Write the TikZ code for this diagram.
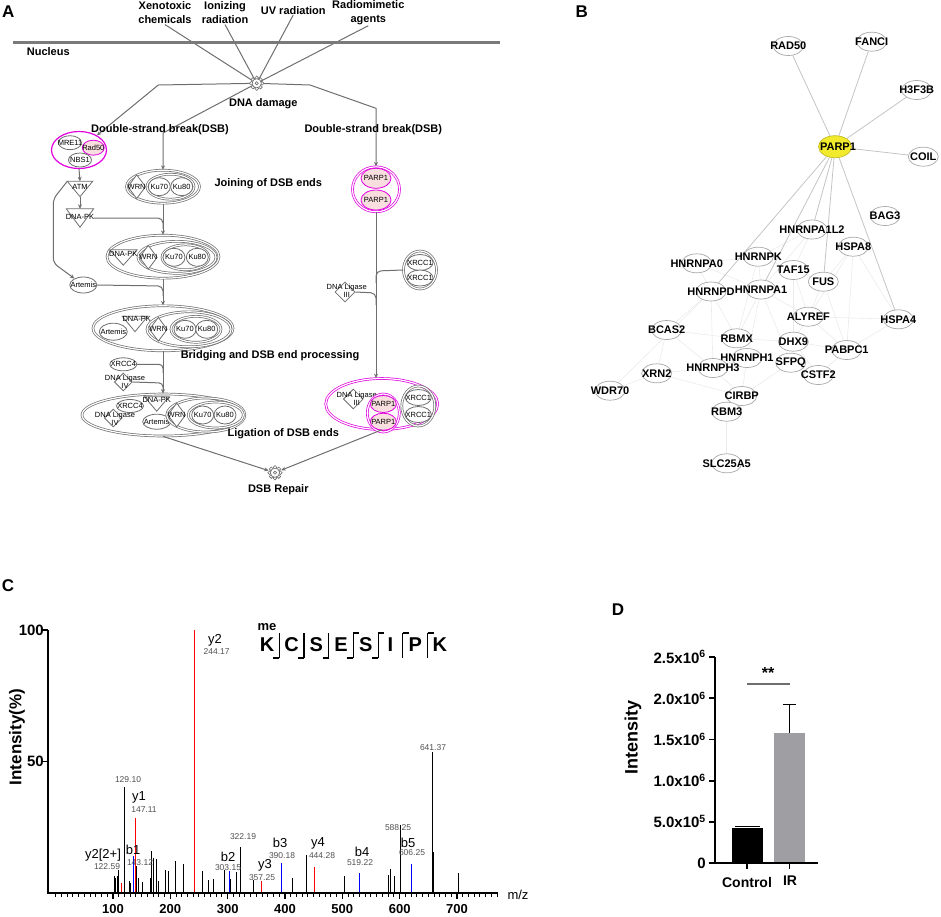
\documentclass[tikz,border=0pt]{standalone}
\usepackage{fontspec}
\setmainfont{Liberation Sans}
\usepackage{tikz}
\usetikzlibrary{shapes.geometric,arrows.meta}

\definecolor{lg}{HTML}{6E6E6E}
\definecolor{memb}{HTML}{7A7A7A}
\definecolor{mag}{HTML}{E000E0}
\definecolor{pinkf}{HTML}{F8DEDE}
\definecolor{edgeg}{HTML}{C4C4C4}
\definecolor{faint}{HTML}{EBEBEB}
\definecolor{bline}{HTML}{A8A8A8}
\definecolor{parpy}{HTML}{F2EA2C}
\definecolor{irgray}{HTML}{9E9EA3}
\definecolor{valg}{HTML}{505050}

\newcommand{\fsz}[1]{\fontsize{#1}{#1}\selectfont}
\newcommand{\zw}[1]{\makebox[0pt]{#1}}
% triangle drawn inside a named box node
\newcommand{\tridraw}[1]{\draw[ln, line width=0.8pt, fill=white] (#1.north west) -- (#1.north east) -- (#1.south) -- cycle;}
% small cog for process nodes
\newcommand{\gear}[2]{%
  \node[circle, minimum size=13, inner sep=0] (#1) at (#2) {};
  \foreach \a in {0,45,...,315} \draw[gearc] (#1.center) ++(\a:5.3) circle (1.9);
  \draw[gearc] (#1.center) circle (4.6);
  \draw[gearc] (#1.center) circle (1.6);
}

\pgfdeclarelayer{bg}
\pgfsetlayers{bg,main}

\begin{document}
\begin{tikzpicture}[x=1pt, y=-1pt,
    ln/.style={draw=lg, line width=1pt},
    arr/.style={ln, -{Stealth[length=4.5pt,width=4pt]}},
    lbl/.style={font=\fsz{11}\bfseries, inner sep=0},
    stim/.style={font=\fontsize{11}{13.3}\selectfont\bfseries, align=center, inner sep=1pt},
    small/.style={font=\fontsize{7.5}{8.3}\selectfont, align=center, inner sep=0},
    prot/.style={ellipse, draw=lg, line width=0.8pt, fill=white, inner sep=0, font=\fsz{7.5}},
    pprot/.style={prot, draw=mag, fill=pinkf},
    cplx/.style={ellipse, draw=lg, line width=0.7pt, double=white, double distance=1.2pt, inner sep=0},
    mcplx/.style={cplx, draw=mag},
    dia/.style={diamond, draw=lg, line width=0.8pt, fill=white, inner sep=0},
    tribox/.style={inner sep=0},
    gearc/.style={draw=lg, line width=0.6pt, fill=white},
    bnode/.style={ellipse, draw=bline, line width=0.7pt, fill=white, minimum width=30, minimum height=19, inner sep=0, font=\fsz{11}\bfseries},
    bedge/.style={draw=edgeg, line width=0.8pt},
    fedge/.style={draw=faint, line width=0.6pt},
    panel/.style={font=\fsz{17}\bfseries, inner sep=0},
    pk/.style={line width=1pt},
    ion/.style={font=\fsz{13}, inner sep=0},
    mzl/.style={font=\fsz{8.5}, text=valg, inner sep=0},
    ax/.style={line width=1.8pt},
    sep/.style={line width=1.2pt},
    seq/.style={font=\fsz{20}\bfseries, inner sep=0},
    tkl/.style={font=\fsz{13}\bfseries, inner sep=0},
    ytl/.style={font=\fsz{15}\bfseries, inner sep=0, anchor=east}]
\useasboundingbox (0,0) rectangle (941,916);

\node[panel] (pa) at (8.3,11.7) {A};
\node[panel] (pb) at (581.7,11.7) {B};
\node[panel] (pc) at (8,586) {C};
\node[panel] (pd) at (618,610) {D};

% ---- A: pathway
\draw[line width=2.5pt, draw=memb] (13,42.5) -- (500,42.5);
\node[lbl] (nuc) at (48.3,51.7) {Nucleus};
\node[stim] (xeno) at (165,12.7) {Xenotoxic\\chemicals};
\node[stim] (ioni) at (225,12.7) {Ionizing\\radiation};
\node[lbl] (uvr) at (293.3,10.7) {UV radiation};
\node[stim] (radio) at (368.3,12.7) {Radiomimetic\\agents};
\gear{dmg}{256.7,83.3}
\node[lbl] (dmgl) at (263.3,103.3) {DNA damage};
\begin{pgfonlayer}{bg}
  \foreach \s in {xeno,ioni,uvr,radio}
    \draw[ln] (\s.south) -- (dmg.center);
\end{pgfonlayer}

\node[lbl] (dsbl) at (160,129.3) {Double-strand break(DSB)};
\node[lbl] (dsbr) at (373.3,129.3) {Double-strand break(DSB)};

% MRN complex
\node[ellipse, draw=mag, line width=1.2pt, minimum width=55, minimum height=37, inner sep=0] (mrn) at (79,150) {};
\node[prot, minimum width=23, minimum height=14] (mre) at (70,142.7) {\zw{MRE11}};
\node[pprot, minimum width=22, minimum height=15] (rad) at (93.3,147.7) {\zw{Rad50}};
\node[prot, minimum width=23, minimum height=14] (nbs) at (80,160) {\zw{NBS1}};

\node[tribox, minimum width=25, minimum height=15] (atm) at (80,189) {};
\tridraw{atm}
\node[small] at (80,187) {ATM};
\node[tribox, minimum width=27, minimum height=18] (dpk) at (80,218) {};
\tridraw{dpk}
\node[small] at (80,216.7) {DNA-PK};
\node[prot, minimum width=27, minimum height=16] (art) at (83.3,285) {\zw{Artemis}};

% complex 1
\node[cplx, minimum width=73, minimum height=33] (c1) at (163,186.7) {};
\node[dia, minimum width=18, minimum height=24] (wrn1) at (136.7,186.7) {};
\node[small] at (wrn1) {WRN};
\node[cplx, minimum width=47, minimum height=25] (ku1) at (170.5,186.7) {};
\node[prot, minimum width=22, minimum height=18] (k70a) at (159.3,186.7) {\zw{Ku70}};
\node[prot, minimum width=22, minimum height=18] (k80a) at (181.7,186.7) {\zw{Ku80}};
\node[lbl] (join) at (268.3,183.3) {Joining of DSB ends};

% complex 2
\node[cplx, minimum width=112, minimum height=43] (c2) at (163,256.7) {};
\node[tribox, minimum width=27, minimum height=15] (dpk2) at (123.3,257.5) {};
\tridraw{dpk2}
\node[small] at (123.3,253.5) {DNA-PK};
\node[cplx, minimum width=78, minimum height=32] (c2b) at (177,257.3) {};
\node[dia, minimum width=18, minimum height=24] (wrn2) at (148.3,257.3) {};
\node[small] at (wrn2) {WRN};
\node[cplx, minimum width=47, minimum height=25] (ku2) at (185.5,257.3) {};
\node[prot, minimum width=22, minimum height=18] (k70b) at (174,257.3) {\zw{Ku70}};
\node[prot, minimum width=22, minimum height=18] (k80b) at (197.3,257.3) {\zw{Ku80}};

% complex 3
\node[cplx, minimum width=140, minimum height=45] (c3) at (163,328.3) {};
\node[prot, minimum width=28, minimum height=17] (art3) at (113.3,331.7) {\zw{Artemis}};
\node[tribox, minimum width=25, minimum height=15] (dpk3) at (135,324) {};
\tridraw{dpk3}
\node[small] at (136.7,319) {DNA-PK};
\node[cplx, minimum width=84, minimum height=35] (c3b) at (189,329.3) {};
\node[dia, minimum width=18, minimum height=24] (wrn3) at (158.3,329.3) {};
\node[small] at (wrn3) {WRN};
\node[cplx, minimum width=50, minimum height=26] (ku3) at (196,329.3) {};
\node[prot, minimum width=22, minimum height=18] (k70c) at (185,329.3) {\zw{Ku70}};
\node[prot, minimum width=22, minimum height=18] (k80c) at (206.7,329.3) {\zw{Ku80}};
\node[lbl] (bridge) at (270,356) {Bridging and DSB end processing};

\node[prot, minimum width=27, minimum height=13] (x4a) at (123.3,364.3) {\zw{XRCC4}};
\node[dia, minimum width=18, minimum height=18] (l4a) at (123.3,382) {};
\node[small] at (125,382) {DNA Ligase\\IV};

% complex 4
\node[cplx, minimum width=162, minimum height=42] (c4) at (163,415) {};
\node[dia, minimum width=18, minimum height=18] (l4b) at (113.3,418) {};
\node[small] at (115,419) {DNA Ligase\\IV};
\node[prot, minimum width=27, minimum height=13] (x4b) at (130,406) {\zw{XRCC4}};
\node[tribox, minimum width=24, minimum height=14] (dpk4) at (156.7,404) {};
\tridraw{dpk4}
\node[small] at (156.7,400) {DNA-PK};
\node[prot, minimum width=28, minimum height=15] (art4) at (156.7,421.7) {\zw{Artemis}};
\node[cplx, minimum width=78, minimum height=34] (c4b) at (205.8,415) {};
\node[dia, minimum width=18, minimum height=24] (wrn4) at (176.7,415) {};
\node[small] at (wrn4) {WRN};
\node[cplx, minimum width=55, minimum height=26] (ku4) at (215.8,415) {};
\node[prot, minimum width=22, minimum height=18] (k70d) at (202.7,415) {\zw{Ku70}};
\node[prot, minimum width=22, minimum height=18] (k80d) at (225,415) {\zw{Ku80}};
\node[lbl] (ligl) at (283.3,433.3) {Ligation of DSB ends};

% right branch
\node[mcplx, minimum width=47, minimum height=45] (parpA) at (376,189.3) {};
\node[pprot, minimum width=30, minimum height=20] (p1a) at (376,178.3) {\zw{PARP1}};
\node[pprot, minimum width=30, minimum height=20] (p1b) at (376,200) {\zw{PARP1}};
\node[cplx, minimum width=33, minimum height=38] (xrA) at (420,270) {};
\node[prot, minimum width=26, minimum height=16] (xr1a) at (420,262.5) {\zw{XRCC1}};
\node[prot, minimum width=26, minimum height=16] (xr1b) at (420,278) {\zw{XRCC1}};
\node[dia, minimum width=20, minimum height=20] (lig3a) at (345,292) {};
\node[small] at (346.7,291) {DNA Ligase\\III};

% complex 5
\node[mcplx, minimum width=112, minimum height=51] (c5) at (381.7,404) {};
\node[dia, minimum width=20, minimum height=20] (lig3b) at (353.3,399) {};
\node[small] at (356.7,399) {DNA Ligase\\III};
\node[mcplx, minimum width=32, minimum height=38] (parpB) at (383.3,413) {};
\node[pprot, minimum width=26, minimum height=17] (p1c) at (383.3,404) {\zw{PARP1}};
\node[pprot, minimum width=26, minimum height=17] (p1d) at (383.3,421.7) {\zw{PARP1}};
\node[cplx, minimum width=33, minimum height=40] (xrB) at (418.3,406) {};
\node[prot, minimum width=26, minimum height=16] (xr1c) at (418.3,397.5) {\zw{XRCC1}};
\node[prot, minimum width=26, minimum height=16] (xr1d) at (418.3,414.5) {\zw{XRCC1}};

\gear{rep}{275,472.7}
\node[lbl] (repl) at (278.3,489.3) {DSB Repair};

\coordinate (j1) at (163,229);
\coordinate (j2) at (163,296);
\coordinate (j3) at (163,373);
\coordinate (j4) at (163,392);
\coordinate (j5) at (376,283);
\coordinate (j6) at (376,305);

\begin{pgfonlayer}{bg}
\draw[arr] (dmg) -- (158.3,85) -- (mrn);
\draw[arr] (dmg) -- (163,133) -- (c1.north);
\draw[arr] (dmg) -- (310,85) -- (376,108.3) -- (parpA.north);
\end{pgfonlayer}
\draw[arr] (mrn.south) -- (atm.north);
\draw[arr] (atm.south) -- (dpk.north);
\draw[arr, rounded corners=5pt] (atm.north west) -- (53.3,199) -- (53.3,263) -- (art);
\draw[arr] (c1.south) -- (c2.north);
\draw[ln, rounded corners=5pt] (dpk.east) -- (163,218) -- (j1);
\draw[arr] (c2.south) -- (c3.north);
\draw[ln, rounded corners=5pt] (art.east) -- (163,286) -- (j2);
\draw[arr] (c3.south) -- (c4.north);
\draw[ln, rounded corners=4pt] (x4a.east) -- (163,364.3) -- (j3);
\draw[ln, rounded corners=4pt] (l4a.east) -- (163,383) -- (j4);
\draw[arr] (parpA.south) -- (parpA.south |- c5.north);
\draw[ln, rounded corners=5pt] (xrA.west) -- (376,271) -- (j5);
\draw[ln, rounded corners=5pt] (lig3a.east) -- (376,293) -- (j6);
\draw[arr] (c4.south) -- (rep);
\draw[arr] (c5.south) -- (rep);

% ---- B: interaction network
\foreach \n/\p/\t in {rad50/{788.3,46}/RAD50, fanci/{871.7,41.7}/FANCI, h3f3b/{916.7,90}/H3F3B,
    coil/{923.3,156.7}/COIL, bag3/{885,216}/BAG3, a1l2/{812,229.5}/HNRNPA1L2,
    hspa8/{853.3,246.7}/HSPA8, a0/{696.7,263.3}/HNRNPA0, hk/{758.3,256.7}/HNRNPK,
    taf/{793.3,270}/TAF15, fus/{823.3,281.7}/FUS, hd/{711,291.5}/HNRNPD,
    ha1/{761,289.5}/HNRNPA1, aly/{808.3,316.7}/ALYREF, hspa4/{898.3,319.3}/HSPA4,
    bcas/{666.7,330}/BCAS2, rbmx/{736.7,338.3}/RBMX, dhx/{793.3,341.7}/DHX9,
    pab/{846.7,350}/PABPC1, hh1/{747,358}/HNRNPH1, sfpq/{790.7,362.7}/SFPQ,
    cstf/{818.3,375}/CSTF2, hh3/{713,368}/HNRNPH3, xrn/{656.7,373.3}/XRN2,
    wdr/{610,390.7}/WDR70, cirbp/{741.7,396}/CIRBP, rbm3/{726.7,411.7}/RBM3,
    slc/{726.7,463.3}/SLC25A5}
  \node[bnode] (\n) at (\p) {\zw{\t}};
\node[bnode, fill=parpy, draw=parpy!80!black, minimum width=33, minimum height=22] (parp) at (835,146.7) {\zw{\hspace{6pt}PARP1}};

\begin{pgfonlayer}{bg}
\foreach \a/\b in {a0/hd, a0/hk, hk/ha1, hk/taf, hd/ha1, hd/rbmx, ha1/aly, ha1/rbmx, ha1/hh1,
    taf/fus, taf/aly, fus/aly, aly/dhx, aly/pab, aly/hspa4, hspa8/hspa4, hspa8/aly, hspa8/pab,
    rbmx/hh1, rbmx/dhx, dhx/sfpq, dhx/pab, sfpq/cstf, hh1/sfpq, hh1/hh3, hh3/xrn, hh3/cirbp,
    hh1/cirbp, cirbp/rbm3, rbm3/slc, xrn/bcas, bcas/hd, bcas/rbmx, wdr/hd, wdr/xrn, cstf/pab,
    hd/hh3, ha1/sfpq, taf/dhx, fus/pab, hk/rbmx, a0/ha1, cirbp/sfpq, hspa4/pab, a1l2/hk,
    a1l2/ha1, a1l2/taf, hspa8/fus, bcas/hh3, xrn/cirbp, dhx/cstf}
  \draw[fedge] (\a) -- (\b);
\foreach \b in {rad50, fanci, h3f3b, coil, a1l2, hd, ha1, fus, hspa4}
  \draw[bedge] (parp) -- (\b);
\end{pgfonlayer}

% ---- C: MS/MS spectrum
\foreach \m/\h in {111.3/6.3, 114/5.7, 116.9/6.3, 119.1/8.6, 129.1/40.3, 136.3/4.4, 138.5/3.8,
    148.5/10.4, 151.9/5.7, 158.5/4, 171.9/5.7, 173.5/15.8, 176.3/13.3, 181.9/12.9, 184.7/4.4,
    197.4/8.9, 201.3/8.2, 213.5/12.3, 226.3/11.1, 258.5/8.2, 268/5, 276.3/5.4, 295.8/8.6,
    305/5.3, 315/8, 322.19/17.5, 344.1/5, 408/5.7, 431.9/14.3, 495.8/6.6, 568/6.8, 572/9,
    578/6.6, 588.25/25.9, 641.37/53.7, 643.5/15.7, 684.7/7.7}
  \draw[pk] (47.5+0.6*\m,893) -- (47.5+0.6*\m,893-2.63*\h);
\foreach \m/\h in {122.59/3.8, 147.11/28.5, 244.17/100, 357.25/4.4, 444.28/9.9}
  \draw[pk, red] (47.5+0.6*\m,893) -- (47.5+0.6*\m,893-2.63*\h);
\foreach \m/\h in {143.12/14.2, 303.15/8.2, 390.18/11.4, 519.22/7.8, 606.25/11.2}
  \draw[pk, blue] (47.5+0.6*\m,893) -- (47.5+0.6*\m,893-2.63*\h);

\draw[ax] (48,630) -- (48,893) -- (498,893);
\draw[ax] (48,630) -- (42,630);
\draw[ax] (48,761.5) -- (42,761.5);
\foreach \v in {0,10,...,770}
  \draw[line width=1pt] (113+0.5733*\v-57.33,893) -- ++(0,3.5);
\foreach \v in {100,200,...,700}
  \draw[line width=1.5pt] (113+0.5733*\v-57.33,893) -- ++(0,6);
\foreach \v in {100,200,...,700}
  \node[tkl] (xt\v) at (113+0.5733*\v-57.33,909) {\v};
\node[ytl] (yt100) at (44,630) {100};
\node[ytl] (yt50) at (44,761.5) {50};
\node[font=\fsz{17}\bfseries, rotate=90, inner sep=0] (ylab) at (17,737) {Intensity(\%)};
\node[font=\fsz{13}, inner sep=0] (mz) at (518,895) {m/z};

\node[ion] (iy2) at (215,640) {y2};      \node[mzl] (vy2) at (216.7,652) {244.17};
\node[mzl] (v129) at (128,780) {129.10};
\node[ion] (iy1) at (139,797) {y1};      \node[mzl] (vy1) at (144,810) {147.11};
\node[ion] (iy22) at (103,855) {y2[2+]}; \node[mzl] (vy22) at (107,867) {122.59};
\node[ion] (ib1) at (133,850) {b1};      \node[mzl] (vb1) at (140,863) {143.12};
\node[mzl] (v322) at (243,837) {322.19};
\node[ion] (ib2) at (228,857) {b2};      \node[mzl] (vb2) at (228,868) {303.15};
\node[ion] (ib3) at (280,843) {b3};      \node[mzl] (vb3) at (282,856) {390.18};
\node[ion] (iy3) at (265,865) {y3};      \node[mzl] (vy3) at (262,878) {357.25};
\node[ion] (iy4) at (318,843) {y4};      \node[mzl] (vy4) at (322,856) {444.28};
\node[ion] (ib4) at (362,852) {b4};      \node[mzl] (vb4) at (360,863) {519.22};
\node[mzl] (v588) at (398,828) {588.25};
\node[ion] (ib5) at (408,843) {b5};      \node[mzl] (vb5) at (412,853) {606.25};
\node[mzl] (v641) at (433,748) {641.37};

% peptide with fragment marks
\node[font=\fsz{13}\bfseries, inner sep=0] (me) at (267,627) {me};
\foreach \l [count=\i from 0] in {K,C,S,E,S,I,P,K}
  \node[seq] (aa\i) at (267+24.7*\i,645) {\l};
\foreach \i in {0,...,6}
  \draw[sep] (279.35+24.7*\i,633) -- ++(0,25);
\foreach \i in {0,...,4}
  \draw[sep] (279.35+24.7*\i,658) -- ++(-6,0);
\foreach \i in {3,...,6}
  \draw[sep] (279.35+24.7*\i,633) -- ++(6,0);

% ---- D: bar chart
\fill (731.7,863) rectangle (762.7,828.3);
\draw[line width=1.2pt] (735,826.5) -- (759.5,826.5);
\fill[irgray] (774,863) rectangle (805,732.7);
\draw[line width=1.5pt] (789.5,732.7) -- (789.5,704.3);
\draw[line width=1.5pt] (783,704.3) -- (796,704.3);
\draw[ax] (715,657) -- (715,863) -- (818,863);
\foreach \k/\t in {0/0, 1/5.0x10\textsuperscript{5}, 2/1.0x10\textsuperscript{6},
    3/1.5x10\textsuperscript{6}, 4/2.0x10\textsuperscript{6}, 5/2.5x10\textsuperscript{6}}
  {\draw[ax] (715,863-41.2*\k) -- (709,863-41.2*\k);
   \node[ytl] at (706,863-41.2*\k) {\t};}
\draw[ax] (747,863) -- (747,869);
\draw[ax] (789.5,863) -- (789.5,869);
\node[font=\fsz{14}\bfseries, inner sep=0] (ctl) at (747,882) {Control};
\node[font=\fsz{14}\bfseries, inner sep=0] (irl) at (790,881) {IR};
\draw[line width=1.5pt, draw=lg] (747,684) -- (790,684);
\node[font=\fsz{16}\bfseries, inner sep=0] (sig) at (768,673) {**};
\node[font=\fsz{18}\bfseries, rotate=90, inner sep=0] (dlab) at (633,737) {Intensity};
\end{tikzpicture}
\end{document}
